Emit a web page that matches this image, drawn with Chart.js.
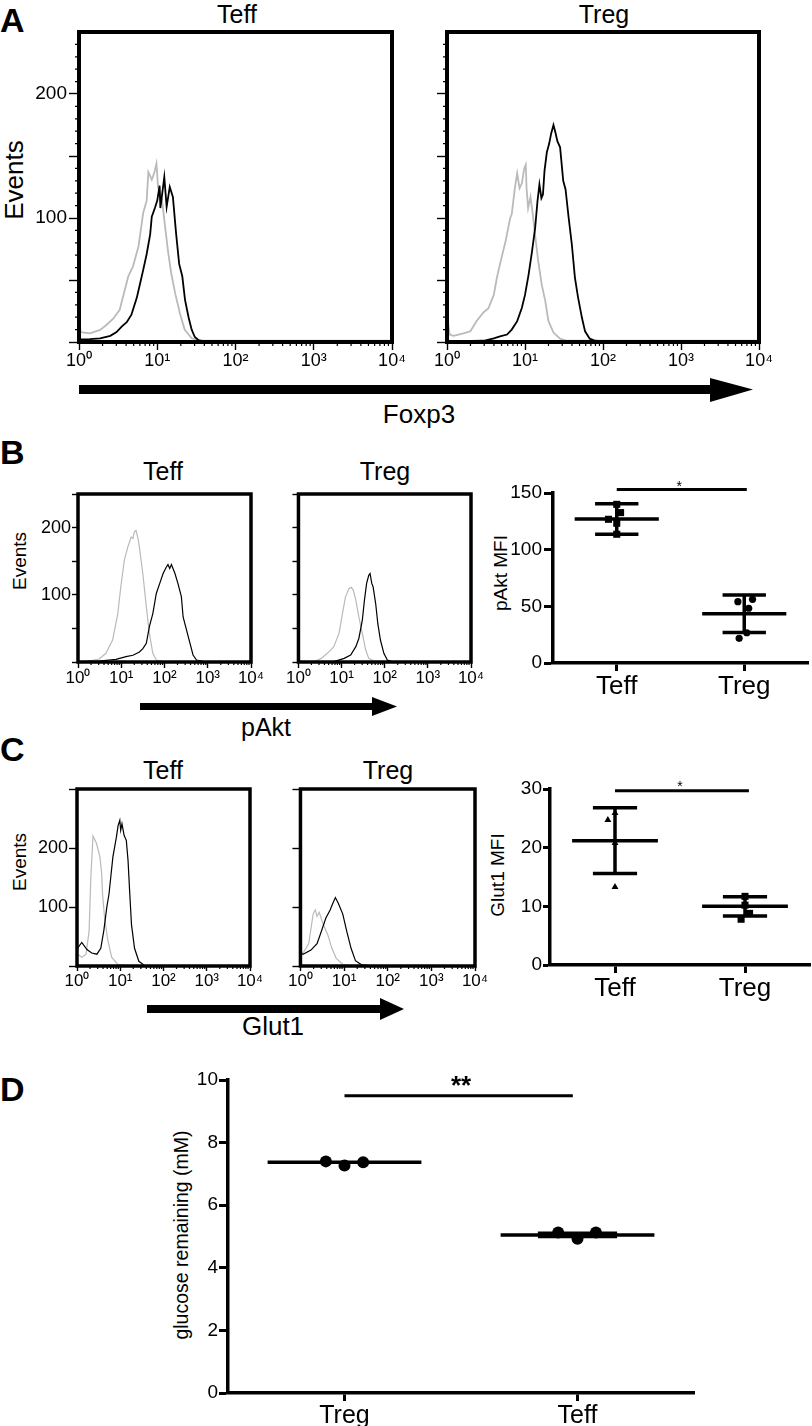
<!DOCTYPE html>
<html>
<head>
<meta charset="utf-8">
<script src="https://cdn.jsdelivr.net/npm/chart.js@4.4.0/dist/chart.umd.min.js"></script>
<style>
body { margin: 0; background: #fff; }
#page { position: relative; width: 812px; height: 1426px; overflow: hidden; background: #fff;
        font-family: "Liberation Sans", Arial, sans-serif; color: #000; }
#page canvas { position: absolute; }
.t { position: absolute; white-space: nowrap; line-height: 1; }
.c { transform: translateX(-50%); }
.r { transform: translate(-50%, -50%) rotate(-90deg); }
.L { font-weight: bold; font-size: 34px; }
</style>
</head>
<body>
<div id="page">
  <svg width="812" height="1426" style="position:absolute;left:0;top:0">
    <rect x="79" y="385" width="634" height="9" fill="#000"/>
    <polygon points="710,378 753,389.5 710,402" fill="#000"/>
    <rect x="140" y="703" width="234" height="7" fill="#000"/>
    <polygon points="372,697 397,706.5 372,716" fill="#000"/>
    <rect x="147" y="1005" width="235" height="8" fill="#000"/>
    <polygon points="380,998 404,1009 380,1020" fill="#000"/>
  </svg>

  <div class="t L" style="left:0;top:3px">A</div>
  <div class="t L" style="left:0;top:435px">B</div>
  <div class="t L" style="left:0;top:732px">C</div>
  <div class="t L" style="left:0;top:1072px">D</div>

  <div class="t c" style="left:237px;top:2px;font-size:25px">Teff</div>
  <div class="t c" style="left:604px;top:2px;font-size:25px">Treg</div>
  <div class="t c" style="left:419px;top:401px;font-size:26px">Foxp3</div>
  <div class="t r" style="left:14px;top:180px;font-size:26px">Events</div>

  <div class="t c" style="left:163px;top:459px;font-size:25px">Teff</div>
  <div class="t c" style="left:385px;top:459px;font-size:25px">Treg</div>
  <div class="t c" style="left:266px;top:715px;font-size:25px">pAkt</div>
  <div class="t r" style="left:19px;top:561px;font-size:19px">Events</div>
  <div class="t r" style="left:500px;top:573px;font-size:19px">pAkt MFI</div>

  <div class="t c" style="left:163px;top:758px;font-size:25px">Teff</div>
  <div class="t c" style="left:388px;top:758px;font-size:25px">Treg</div>
  <div class="t c" style="left:273px;top:1013px;font-size:26px">Glut1</div>
  <div class="t r" style="left:19px;top:862px;font-size:19px">Events</div>
  <div class="t r" style="left:497px;top:875px;font-size:19px">Glut1 MFI</div>

  <div class="t r" style="left:182px;top:1235px;font-size:19.5px">glucose remaining (mM)</div>
</div>

<script>
// histograms: [log10 decade, events]
const aTeffGrey = [[0,25],[0.02,8],[0.14,7],[0.27,9.7],[0.35,13.7],[0.44,19],[0.52,26],[0.63,53],[0.69,61],[0.76,77],[0.82,104],[0.865,114],[0.886,137],[0.93,131],[0.96,136],[0.99,144],[1.01,125],[1.06,115],[1.10,93],[1.14,72],[1.18,55],[1.23,39],[1.29,23],[1.35,10],[1.44,3],[1.55,1],[4,1]]
const aTeffBlack = [[0.01,2],[0.14,2.4],[0.27,3],[0.40,5],[0.48,8],[0.545,12.4],[0.61,16],[0.67,22],[0.74,36],[0.78,47],[0.82,58],[0.865,71],[0.91,87],[0.93,101],[0.97,108],[1.00,114],[1.03,126],[1.04,108],[1.09,133],[1.12,109],[1.16,125],[1.20,117],[1.24,88],[1.28,63],[1.32,53],[1.355,34],[1.40,20],[1.44,10],[1.48,4],[1.525,1.6],[1.6,0.5],[4,0.5]]
const aTregGrey = [[0,22],[0.034,6],[0.085,5],[0.21,7],[0.30,8.6],[0.38,17],[0.47,24],[0.53,27],[0.60,38],[0.64,52],[0.68,63],[0.75,81],[0.81,100],[0.83,103],[0.87,124],[0.90,136],[0.93,124],[0.96,128],[0.99,140],[1.01,143],[1.02,124],[1.04,108],[1.07,117],[1.10,103],[1.13,86],[1.17,65],[1.215,46],[1.26,33],[1.30,17],[1.365,7.6],[1.45,2.7],[1.535,1],[4,1]]
const aTregBlack = [[0.02,0.5],[0.47,1],[0.60,3],[0.68,4.6],[0.77,6],[0.83,10],[0.90,16.8],[0.96,27.6],[1.00,38],[1.045,54],[1.09,73],[1.13,92],[1.16,113.5],[1.185,127],[1.21,116],[1.23,119],[1.25,138],[1.28,153],[1.31,160],[1.335,168],[1.365,175],[1.39,169],[1.415,162],[1.45,157],[1.49,130],[1.52,123],[1.56,100],[1.60,79],[1.64,52],[1.68,36],[1.73,19.5],[1.77,8.6],[1.83,2.7],[1.90,1],[2,0.5],[4,0.5]]

const bTeffGrey = [[0,0.5],[0.18,0.5],[0.49,4.5],[0.645,13],[0.80,32.7],[0.92,72],[0.99,112],[1.07,151],[1.15,171],[1.23,186],[1.27,184],[1.30,193],[1.34,196],[1.38,186],[1.42,171],[1.50,131],[1.58,82],[1.65,42.6],[1.73,12.9],[1.81,3],[1.97,0.5],[4,0.5]]
const bTeffBlack = [[0.02,0.5],[0.49,1.5],[0.88,4],[1.11,8],[1.27,10],[1.42,15],[1.50,20],[1.58,27.7],[1.65,52.5],[1.73,72],[1.81,102],[1.89,117],[1.97,132],[2.04,141],[2.08,145],[2.12,139],[2.16,145],[2.24,132],[2.31,117],[2.39,97.5],[2.43,67],[2.51,47.5],[2.59,27.7],[2.66,10.4],[2.74,3],[2.90,0.5],[4,0.5]]
const bTregGrey = [[0,0.5],[0.36,0.5],[0.52,5],[0.67,12.9],[0.82,22.8],[0.94,42.6],[1.02,72],[1.09,97],[1.17,109],[1.225,111],[1.27,107],[1.33,92],[1.40,67],[1.48,42.6],[1.56,17.8],[1.63,5.4],[1.75,1.5],[1.9,0.5],[4,0.5]]
const bTregBlack = [[0,0.5],[0.82,0.5],[1.06,5.4],[1.21,10.4],[1.33,22.8],[1.40,35],[1.48,62],[1.53,92],[1.58,117],[1.63,129],[1.66,131.7],[1.70,117],[1.73,112],[1.79,87],[1.84,57],[1.90,32.7],[1.98,12.9],[2.06,3],[2.17,0.5],[4,0.5]]

const cTeffGrey = [[0.02,20],[0.11,15],[0.21,20],[0.28,60],[0.32,150],[0.37,220],[0.45,208],[0.53,185],[0.57,157],[0.59,123],[0.64,80],[0.71,45],[0.80,15],[0.94,3],[1.10,0.5],[4,0.5]]
const cTeffBlack = [[0.01,30],[0.11,40],[0.23,28],[0.34,22],[0.46,20],[0.55,30],[0.62,60],[0.69,100],[0.74,122],[0.78,150],[0.83,185],[0.91,218],[0.95,238],[0.99,247],[1.01,230],[1.04,241],[1.09,221],[1.14,213],[1.18,179],[1.22,123],[1.26,70],[1.33,30],[1.43,8],[1.56,1],[4,0.5]]
const cTregGrey = [[0.01,20],[0.07,23],[0.19,38],[0.29,88],[0.34,95],[0.38,84],[0.43,91],[0.51,73],[0.63,52],[0.72,30],[0.82,13],[0.97,3],[1.11,0.5],[4,0.5]]
const cTregBlack = [[0.01,22],[0.06,20],[0.24,27],[0.38,38],[0.48,59],[0.58,81],[0.68,95],[0.74,106],[0.80,116],[0.87,106],[0.97,88],[1.06,59],[1.16,30],[1.26,9],[1.40,2],[1.60,0.5],[4,0.5]]

const decadeTicks = [0, 1, 2, 3, 4]
const decadeLabels = ['10⁰', '10¹', '10²', '10³', '10⁴']

// dot plots
const bCats = ['Teff', 'Treg']
const bTeffX = [1, 1.03, 0.935, 1, 1]
const bTeffY = [140, 132.7, 126.8, 123.3, 113.6]
const bTregX = [1.95, 2.065, 2.035, 2.02, 1.96]
const bTregY = [54.1, 56.2, 48.3, 26.7, 21.8]
const bMean = [127, 43.5]
const bSd = [13.5, 16.5]
const bSigX = [1, 2.02]
const bSigY = 153

const cCats = ['Teff', 'Treg']
const cTeffX = [0.945, 1, 1, 1]
const cTeffY = [24.7, 25.9, 20.8, 13.3]
const cTregX = [2, 2, 2.035, 1.97]
const cTregY = [11.7, 10.2, 8.8, 7.8]
const cMean = [21.2, 10.0]
const cSd = [5.6, 1.65]
const cSigX = [1, 2.03]
const cSigY = 29.7

const dCats = ['Treg', 'Teff']
const dTregX = [0.92, 1, 1.08]
const dTregY = [7.40, 7.27, 7.37]
const dTeffX = [1.917, 2, 2.079]
const dTeffY = [5.13, 4.93, 5.13]
const dMean = [7.37, 5.05]
const dSd = [0, 0.05]
const dSigX = [1, 1.98]
const dSigY = 9.5

const FONT = '"Liberation Sans", Arial, sans-serif'
Chart.defaults.font.family = FONT
Chart.defaults.color = '#000'
Chart.defaults.animation = false

const page = document.getElementById('page')

// minor tick positions between decades
const minorDecades = []
for (let n = 0; n < 4; n++) {
    for (let k = 2; k < 10; k++) minorDecades.push(n + Math.log10(k))
}

const boxFrame = {
    id: 'boxFrame',
    afterDatasetsDraw(chart, args, opts) {
        const a = chart.chartArea, ctx = chart.ctx
        ctx.save()
        ctx.lineWidth = opts.width
        ctx.strokeStyle = '#000'
        ctx.strokeRect(a.left, a.top, a.right - a.left, a.bottom - a.top)
        ctx.restore()
    }
}

const minorTicks = {
    id: 'minorTicks',
    afterDraw(chart, args, opts) {
        const a = chart.chartArea, ctx = chart.ctx
        ctx.save()
        ctx.strokeStyle = '#000'
        ctx.lineWidth = 1.2
        ctx.beginPath()
        for (const v of opts.x || []) {
            const px = chart.scales.x.getPixelForValue(v)
            ctx.moveTo(px, a.bottom)
            ctx.lineTo(px, a.bottom + opts.xLen)
        }
        for (const v of opts.y || []) {
            const py = chart.scales.y.getPixelForValue(v)
            ctx.moveTo(a.left - opts.yLen, py)
            ctx.lineTo(a.left, py)
        }
        ctx.stroke()
        ctx.restore()
    }
}

const starMarks = {
    id: 'starMarks',
    afterDraw(chart, args, opts) {
        const ctx = chart.ctx
        for (const m of opts.items || []) {
            ctx.save()
            ctx.font = m.font
            ctx.fillStyle = '#000'
            ctx.textAlign = 'center'
            ctx.textBaseline = 'alphabetic'
            ctx.fillText(m.text, chart.scales.x.getPixelForValue(m.x), chart.scales.y.getPixelForValue(m.y))
            ctx.restore()
        }
    }
}

function addCanvas(area, yw, xh, pad) {
    const c = document.createElement('canvas')
    const w = area[2] - area[0] + yw + pad
    const h = area[3] - area[1] + xh + pad
    c.width = w
    c.height = h
    c.style.left = (area[0] - yw) + 'px'
    c.style.top = (area[1] - pad) + 'px'
    c.style.width = w + 'px'
    c.style.height = h + 'px'
    page.appendChild(c)
    return c
}

function toPoints(pairs) {
    return pairs.map(p => ({x: p[0], y: p[1]}))
}

function histChart(area, grey, black, o) {
    const pad = 24
    const canvas = addCanvas(area, o.yw, o.xh, pad)
    return new Chart(canvas, {
        type: 'scatter',
        data: {
            datasets: [
                {data: toPoints(black), showLine: true, borderColor: '#000', borderWidth: o.lw, pointRadius: 0, tension: 0},
                {data: toPoints(grey), showLine: true, borderColor: '#bababa', borderWidth: o.lw, pointRadius: 0, tension: 0}
            ]
        },
        options: {
            responsive: false,
            animation: false,
            layout: {padding: {top: pad, right: pad, left: 0, bottom: 0}},
            plugins: {
                legend: {display: false},
                tooltip: {enabled: false},
                boxFrame: {width: o.frame},
                minorTicks: {x: minorDecades, y: o.yMinor, xLen: o.xMinorLen, yLen: o.yMinorLen}
            },
            scales: {
                x: {
                    type: 'linear', min: 0, max: 4,
                    afterFit: s => { s.height = o.xh },
                    afterBuildTicks: s => { s.ticks = decadeTicks.map(v => ({value: v})) },
                    ticks: {callback: v => decadeLabels[v], font: {size: o.xFont}, padding: o.xPad, maxRotation: 0, autoSkip: false},
                    grid: {drawOnChartArea: false, tickLength: o.xTick, tickColor: '#000', tickWidth: 1.4},
                    border: {display: false}
                },
                y: {
                    min: 0, max: o.yMax,
                    afterFit: s => { s.width = o.yw },
                    afterBuildTicks: s => { s.ticks = o.yMajor.map(v => ({value: v})) },
                    ticks: {callback: v => (o.yLabels.includes(v) ? String(v) : ''), font: {size: o.yFont}, padding: o.yPad, autoSkip: false},
                    grid: {drawOnChartArea: false, tickLength: o.yTick, tickColor: '#000', tickWidth: 1.4},
                    border: {display: false}
                }
            }
        },
        plugins: [boxFrame, minorTicks]
    })
}

function errorBars(means, sds, half, cap) {
    const pts = []
    means.forEach((m, i) => {
        const c = i + 1, s = sds[i]
        pts.push({x: c - half, y: m}, {x: c + half, y: m}, {x: c, y: null})
        if (s) {
            pts.push({x: c, y: m - s}, {x: c, y: m + s}, {x: c, y: null})
            pts.push({x: c - cap, y: m + s}, {x: c + cap, y: m + s}, {x: c, y: null})
            pts.push({x: c - cap, y: m - s}, {x: c + cap, y: m - s}, {x: c, y: null})
        }
    })
    return pts
}

function dotChart(area, o) {
    const pad = 24
    const canvas = addCanvas(area, o.yw, o.xh, pad)
    const datasets = [
        {data: errorBars(o.means, o.sds, 0.33, 0.17), showLine: true, spanGaps: false, borderColor: '#000', borderWidth: 3.5, pointRadius: 0, clip: false},
        {data: o.sigX.map(x => ({x: x, y: o.sigY})), showLine: true, borderColor: '#000', borderWidth: 3, pointRadius: 0, clip: false}
    ]
    for (const g of o.groups) {
        datasets.push({
            data: g.xs.map((x, i) => ({x: x, y: g.ys[i]})),
            pointStyle: g.style, pointRadius: g.r, backgroundColor: '#000', borderColor: '#000', borderWidth: 0, clip: false
        })
    }
    return new Chart(canvas, {
        type: 'scatter',
        data: {datasets},
        options: {
            responsive: false,
            animation: false,
            layout: {padding: {top: pad, right: pad, left: 0, bottom: 0}},
            plugins: {legend: {display: false}, tooltip: {enabled: false}, starMarks: {items: o.stars}},
            scales: {
                x: {
                    type: 'linear', min: 0.5, max: 2.5,
                    afterFit: s => { s.height = o.xh },
                    afterBuildTicks: s => { s.ticks = [{value: 1}, {value: 2}] },
                    ticks: {callback: v => o.cats[v - 1], font: {size: o.xFont}, padding: o.xPad, maxRotation: 0, autoSkip: false},
                    grid: {drawOnChartArea: false, tickLength: 8, tickColor: '#000', tickWidth: 3},
                    border: {display: true, width: 3.5, color: '#000'}
                },
                y: {
                    min: 0, max: o.yMax,
                    afterFit: s => { s.width = o.yw },
                    ticks: {stepSize: o.yStep, font: {size: o.yFont}, padding: o.yPad},
                    grid: {drawOnChartArea: false, tickLength: o.yTick, tickColor: '#000', tickWidth: 3},
                    border: {display: true, width: 3.5, color: '#000'}
                }
            }
        },
        plugins: [starMarks]
    })
}

// panel A
const aMinorY = []
for (let v = 10; v < 250; v += 10) if (v % 50) aMinorY.push(v)
const aOpts = {yMax: 250, yMajor: [0, 50, 100, 150, 200], yLabels: [100, 200], yMinor: aMinorY,
    yFont: 19, yPad: 2, yTick: 10, yMinorLen: 4, xFont: 18, xPad: 0, xTick: 8, xMinorLen: 4,
    xh: 32, lw: 1.8, frame: 4}
histChart([79, 32, 392, 342], aTeffGrey, aTeffBlack, {...aOpts, yw: 50})
histChart([447, 32, 759, 342], aTregGrey, aTregBlack, {...aOpts, yLabels: [], yw: 16})

// panel B
const bOpts = {yMax: 250, yMajor: [0, 50, 100, 150, 200, 250], yLabels: [100, 200], yMinor: [],
    yFont: 18, yPad: 1, yTick: 6, yMinorLen: 0, xFont: 17, xPad: 0, xTick: 6, xMinorLen: 3,
    xh: 30, lw: 1.2, frame: 3.5}
histChart([78, 494, 251, 662], bTeffGrey, bTeffBlack, {...bOpts, yw: 46})
histChart([298, 494, 471, 662], bTregGrey, bTregBlack, {...bOpts, yLabels: [], yw: 12})

// panel C
const cOpts = {yMax: 300, yMajor: [0, 100, 200, 300], yLabels: [100, 200], yMinor: [],
    yFont: 18, yPad: 1, yTick: 8, yMinorLen: 0, xFont: 17, xPad: 0, xTick: 5, xMinorLen: 3,
    xh: 30, lw: 1.2, frame: 3.5}
histChart([77, 789, 250, 966], cTeffGrey, cTeffBlack, {...cOpts, yw: 46})
histChart([300, 789, 475, 966], cTregGrey, cTregBlack, {...cOpts, yLabels: [], yw: 12})

dotChart([553, 493, 808, 663], {
    cats: bCats, yMax: 150, yStep: 50, means: bMean, sds: bSd, sigX: bSigX, sigY: bSigY,
    groups: [{xs: bTeffX, ys: bTeffY, style: 'rect', r: 5}, {xs: bTregX, ys: bTregY, style: 'circle', r: 3.6}],
    stars: [{x: 1.49, y: 152, text: '*', font: '14px ' + FONT}],
    yw: 48, xh: 40, yFont: 19, yPad: 2, yTick: 9, xFont: 26, xPad: 0
})

dotChart([550, 789, 810, 965], {
    cats: cCats, yMax: 30, yStep: 10, means: cMean, sds: cSd, sigX: cSigX, sigY: cSigY,
    groups: [{xs: cTeffX, ys: cTeffY, style: 'triangle', r: 4}, {xs: cTregX, ys: cTregY, style: 'rect', r: 5}],
    stars: [{x: 1.5, y: 29.6, text: '*', font: '14px ' + FONT}],
    yw: 48, xh: 40, yFont: 19, yPad: 1, yTick: 7, xFont: 26, xPad: 0
})

dotChart([228, 1080, 694, 1393], {
    cats: dCats, yMax: 10, yStep: 2, means: dMean, sds: dSd, sigX: dSigX, sigY: dSigY,
    groups: [{xs: dTregX, ys: dTregY, style: 'circle', r: 6}, {xs: dTeffX, ys: dTeffY, style: 'circle', r: 6}],
    stars: [{x: 1.5, y: 9.55, text: '**', font: 'bold 26px ' + FONT}],
    yw: 40, xh: 40, yFont: 19, yPad: 1, yTick: 9, xFont: 25, xPad: 0
})
</script>
</body>
</html>
